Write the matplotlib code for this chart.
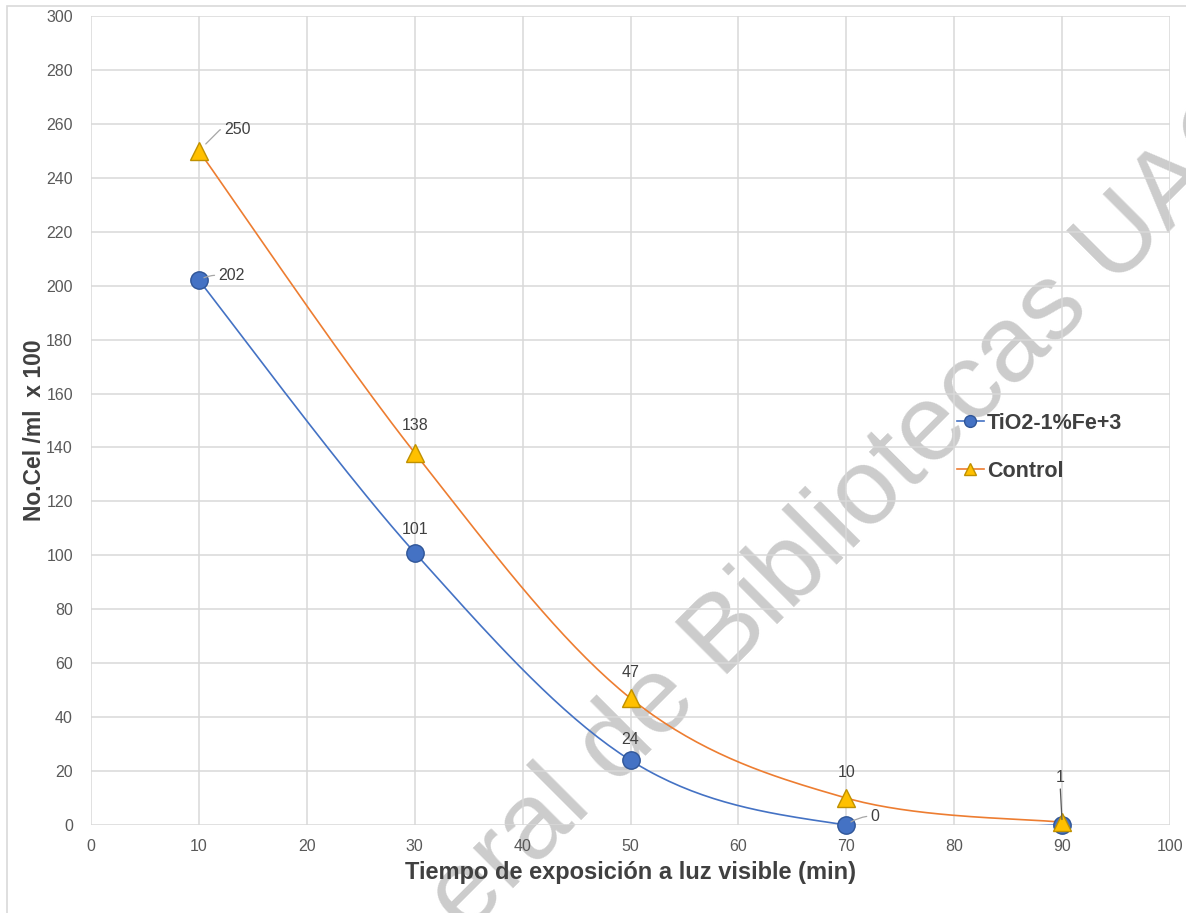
import numpy as np
import matplotlib
matplotlib.use("Agg")
import matplotlib.pyplot as plt
from matplotlib.patches import Rectangle
from matplotlib.lines import Line2D

# ---- data ----
x_tio2 = [10, 30, 50, 70, 90]
y_tio2 = [202, 101, 24, 0, 0]
lbl_tio2 = ["202", "101", "24", "0", None]

x_ctrl = [10, 30, 50, 70, 90]
y_ctrl = [250, 138, 47, 10, 1]
lbl_ctrl = ["250", "138", "47", "10", "1"]

series_names = ["TiO2-1%Fe+3", "Control"]
x_title = "Tiempo de exposición a luz visible (min)"
y_title = "No.Cel /ml  x 100"
watermark_visible = "eral de Bibliotecas UAQ"   # visible part of "Dirección General de Bibliotecas UAQ"

plt.rcParams['font.family'] = ['Liberation Sans', 'DejaVu Sans']

W, H = 1186, 913
fig = plt.figure(figsize=(W / 100, H / 100), dpi=100)
ax = fig.add_axes([91 / W, 1 - 825 / H, (1170 - 91) / W, (825 - 16) / H])
ax.set_facecolor('none')

# outer frame
fig.patches.append(Rectangle((6.5 / W, -0.05), 1.2, 1 - 6.5 / H + 0.05, transform=fig.transFigure,
                             fill=False, edgecolor='#d9d9d9', linewidth=1.2, zorder=-5))

# watermark (behind the grid)
fig.text(466 / W, 1 - 936 / H, watermark_visible, fontsize=78, color='#cccccc', rotation=45,
         rotation_mode='anchor', ha='left', va='baseline', zorder=-2,
         family=['Liberation Sans', 'DejaVu Sans'])


def smooth(xs, ys, n=40):
    p = np.column_stack([xs, ys]).astype(float)
    pts = np.vstack([p[0], p, p[-1]])
    out = []
    t = np.linspace(0, 1, n)[:, None]
    for i in range(1, len(pts) - 2):
        p0, p1, p2, p3 = pts[i - 1], pts[i], pts[i + 1], pts[i + 2]
        c1 = p1 + (p2 - p0) / 6
        c2 = p2 - (p3 - p1) / 6
        seg = ((1 - t) ** 3) * p1 + 3 * ((1 - t) ** 2) * t * c1 + 3 * (1 - t) * t ** 2 * c2 + t ** 3 * p2
        out.append(seg)
    s = np.vstack(out)
    return s[:, 0], s[:, 1]


blue = '#4472C4'
blue_edge = '#2F5597'
orange = '#ED7D31'
yellow = '#FFC000'
yellow_edge = '#BF9000'

sx, sy = smooth(x_tio2, y_tio2)
ax.plot(sx, sy, color=blue, lw=1.2, zorder=3)
sx, sy = smooth(x_ctrl, y_ctrl)
ax.plot(sx, sy, color=orange, lw=1.2, zorder=3)

ax.plot(x_tio2, y_tio2, 'o', ms=12.5, mfc=blue, mec=blue_edge, mew=1, zorder=4, clip_on=False)
ax.plot(x_ctrl, y_ctrl, '^', ms=13, mfc=yellow, mec=yellow_edge, mew=1, zorder=5, clip_on=False)

ax.set_xlim(0, 100)
ax.set_ylim(0, 300)
ax.set_xticks(np.arange(0, 101, 10))
ax.set_yticks(np.arange(0, 301, 20))
ax.grid(True, color='#d9d9d9', lw=1.1)
ax.set_axisbelow(True)
for s in ax.spines.values():
    s.set_visible(False)
ax.tick_params(length=0, labelsize=11.5, labelcolor='#595959')
ax.tick_params(axis='y', pad=13)
ax.tick_params(axis='x', pad=10)

ax.set_xlabel(x_title, fontsize=17, fontweight='bold', color='#404040', va='center')
ax.xaxis.set_label_coords(0.5, (825 - 872) / (825 - 16))
ax.set_ylabel(y_title, fontsize=16.5, fontweight='bold', color='#404040', va='center')
ax.yaxis.set_label_coords((35 - 91) / (1170 - 91), (825 - 430) / (825 - 16))

lab_kw = dict(textcoords='offset pixels', fontsize=11.5, color='#404040', ha='center', va='center', zorder=6)
lead_col = '#a6a6a6'

# Control labels
offs_ctrl = [(39, 21), (0, 27), (0, 26), (0, 26), (-2, 45)]
for xv, yv, lb, off in zip(x_ctrl, y_ctrl, lbl_ctrl, offs_ctrl):
    if lb is None:
        continue
    if lb == "250":
        ax.annotate(lb, (xv, yv), xytext=off,
                    arrowprops=dict(arrowstyle='-', color=lead_col, lw=0.9, shrinkA=1, shrinkB=7,
                                    relpos=(0, 0.5), connectionstyle='angle,angleA=0,angleB=45,rad=0'),
                    **lab_kw)
    elif lb == "1":
        ax.annotate(lb, (xv, yv), xytext=off,
                    arrowprops=dict(arrowstyle='-', color='#595959', lw=0.9, shrinkA=1, shrinkB=2,
                                    relpos=(0.5, 0)), **lab_kw)
    else:
        ax.annotate(lb, (xv, yv), xytext=off, **lab_kw)

offs_tio2 = [(33, 5), (0, 23), (0, 21), (29, 9), None]
for xv, yv, lb, off in zip(x_tio2, y_tio2, lbl_tio2, offs_tio2):
    if lb is None:
        continue
    if lb in ("202", "0"):
        ax.annotate(lb, (xv, yv), xytext=off,
                    arrowprops=dict(arrowstyle='-', color=lead_col, lw=0.9, shrinkA=1, shrinkB=4,
                                    relpos=(0, 0.5), connectionstyle='arc3,rad=0.15'), **lab_kw)
    else:
        ax.annotate(lb, (xv, yv), xytext=off, **lab_kw)

handles = [Line2D([], [], color=blue, lw=1.2, marker='o', ms=8.5, mfc=blue, mec=blue_edge),
           Line2D([], [], color=orange, lw=1.2, marker='^', ms=9, mfc=yellow, mec=yellow_edge)]
leg = ax.legend(handles, series_names, loc='upper left',
                bbox_to_anchor=((957 - 91) / (1170 - 91), (825 - 413) / (825 - 16)),
                frameon=False, handlelength=1.25, handletextpad=0.15, labelspacing=1.25,
                borderaxespad=0, borderpad=0,
                prop=dict(family=['Liberation Sans'], weight='bold', size=15.5))
for t in leg.get_texts():
    t.set_color('#404040')

fig.savefig('out.png', dpi=100)
